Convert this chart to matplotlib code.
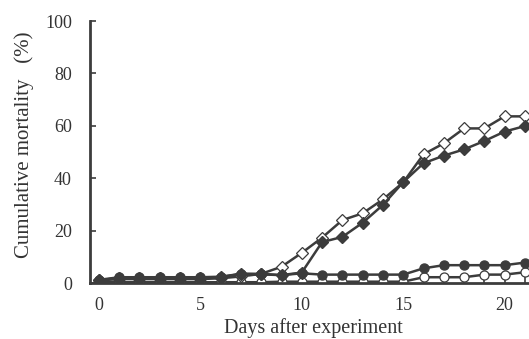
import matplotlib
matplotlib.use("Agg")
import matplotlib.pyplot as plt
import numpy as np

days = list(range(0, 22))
open_diamond = [1.0, 1.5, 1.5, 1.5, 1.5, 1.5, 1.8, 2.5, 3.5, 6.2, 11.5, 17.3, 24.0, 26.6, 31.9, 38.4,
                49.1, 53.3, 59.0, 59.0, 63.6, 63.6]
filled_diamond = [1.0, 2.0, 2.0, 2.0, 2.0, 2.0, 2.2, 3.5, 3.5, 3.0, 4.0, 15.6, 17.6, 23.0, 29.8, 38.5,
                  45.7, 48.6, 51.0, 54.2, 57.8, 59.9]
filled_circle = [1.2, 2.2, 2.2, 2.2, 2.2, 2.2, 2.4, 3.5, 3.3, 3.0, 3.7, 3.2, 3.2, 3.2, 3.2, 3.2,
                 5.6, 6.8, 6.8, 6.8, 6.8, 7.8]
open_circle = [0.5, 0.3, 0.3, 0.3, 0.3, 0.3, 0.3, 0.3, 0.3, 0.5, 0.5, 0.5, 0.5, 0.5, 0.5, 0.5,
               2.2, 2.2, 2.2, 3.2, 3.2, 4.1]

x_ticks = [0, 5, 10, 15, 20]
y_ticks = [0, 20, 40, 60, 80, 100]

dark = "#3c3c3c"
plt.rcParams['font.family'] = ['Liberation Serif', 'DejaVu Serif']

fig = plt.figure(figsize=(5.29, 3.39), dpi=100)
ax = fig.add_axes([90/529, 56/339, 1 - 90/529, (283-21)/339])

lw = 1.8
ax.plot(days, open_circle, color=dark, lw=lw, marker='o', ms=6.5, mfc='white', mec=dark, mew=0.9, zorder=3)
ax.plot(days, open_diamond, color=dark, lw=lw, marker='D', ms=6.0, mfc='white', mec=dark, mew=0.9, zorder=4)
ax.plot(days, filled_diamond, color=dark, lw=lw, marker='D', ms=6.0, mfc=dark, mec=dark, zorder=5)
ax.plot(days, filled_circle, color=dark, lw=lw, marker='o', ms=6.5, mfc=dark, mec=dark, zorder=6)

ax.set_xlim(-0.44, 21.2)
ax.set_ylim(0, 100)
ax.set_xticks(x_ticks)
ax.set_xticks(days, minor=True)
ax.set_yticks(y_ticks)

for s in ['top', 'right']:
    ax.spines[s].set_visible(False)
for s in ['left', 'bottom']:
    ax.spines[s].set_color(dark)
    ax.spines[s].set_linewidth(2.0)
    ax.spines[s].set_zorder(7)

ax.tick_params(axis='both', which='both', direction='in', color=dark, width=1.2, length=4, labelsize=13,
               labelcolor='#333333')
ax.tick_params(axis='y', pad=13)
ax.tick_params(axis='x', pad=10)

ax.set_xlabel("Days after experiment", fontsize=14.5, color='#333333')
ax.set_ylabel("Cumulative mortality   (%)", fontsize=15, color='#333333')
ax.xaxis.label.set_va('center')
ax.yaxis.label.set_va('center')
ax.xaxis.set_label_coords(0.508, -0.172)
ax.yaxis.set_label_coords(-0.150, 0.527)

fig.savefig("out.png", dpi=100)
